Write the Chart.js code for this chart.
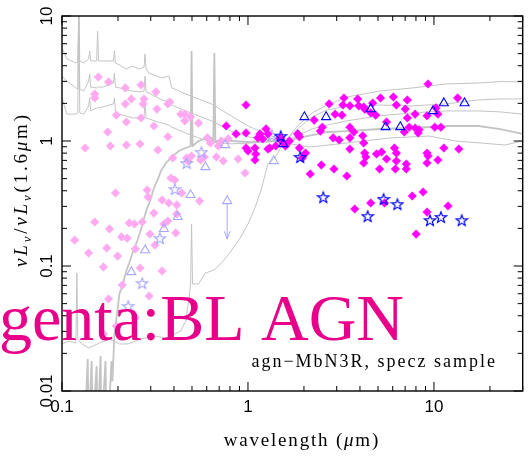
<!DOCTYPE html>
<html>
<head>
<meta charset="utf-8">
<title>BL AGN SEDs</title>
<script src="https://cdn.jsdelivr.net/npm/chart.js@4.4.0/dist/chart.umd.min.js"></script>
<style>
    html, body { margin: 0; padding: 0; background: #fff; }
    #wrap { width: 529px; height: 460px; position: relative; }
</style>
</head>
<body>
<div id="wrap"><canvas id="sed"></canvas></div>
<script>
// ---- data (wavelength in micron, nuLnu / nuLnu(1.6um)) ----

// broad-line AGN, magenta diamonds
var blWave = [9.29, 2.73, 3.28, 3.24, 3.53, 3.89, 3.94, 4.19, 4.68, 4.24,
    5.16, 6.05, 6.28, 7.19, 7.01, 2.94, 3.20, 4.57, 4.86, 2.27,
    5.56, 7.19, 7.92, 9.18, 10.25, 10.5, 13.4, 2.51, 2.45, 3.53,
    3.71, 1.87, 2.87, 3.09, 3.53, 4.14, 4.19, 6.93, 7.36, 7.92,
    8.32, 8.22, 10.1, 10.9, 1.89, 2.04, 1.96, 3.53, 4.24, 4.30,
    4.91, 5.23, 5.56, 6.13, 6.28, 6.28, 9.18, 9.29, 10.5, 11.3,
    13.6, 4.19, 5.10, 2.48, 2.90, 3.40, 2.16, 6.20, 7.10, 7.10,
    9.18, 7.64, 8.74, 3.75, 4.57, 5.42, 9.18, 11.9, 8.02, 0.976,
    0.764, 0.863, 0.976, 1.16, 1.13, 1.25, 1.28, 1.20, 0.976, 1.0,
    1.09, 1.10, 1.09, 1.28, 1.41, 1.48, 1.54, 1.50, 1.67, 1.59,
    1.85, 1.89, 1.31];
var blRatio = [2.86, 1.98, 2.21, 1.94, 1.91, 2.17, 1.91, 1.87, 2.01, 1.80,
    2.21, 2.25, 1.94, 2.13, 1.80, 1.64, 1.61, 1.68, 1.61, 1.47,
    1.42, 1.53, 1.64, 1.59, 1.84, 1.64, 2.21, 1.29, 1.20, 1.29,
    1.18, 1.12, 1.06, 1.02, 1.06, 1.10, 0.964, 1.18, 1.29, 1.27,
    1.23, 1.16, 1.29, 1.29, 0.879, 0.80, 0.731, 0.863, 0.80, 0.745,
    0.787, 0.817, 0.718, 0.879, 0.80, 0.692, 0.80, 0.759, 0.705, 0.879,
    0.863, 0.667, 0.597, 0.643, 0.597, 0.525, 0.545, 0.597, 0.654, 0.597,
    0.667, 0.363, 0.391, 0.286, 0.319, 0.319, 0.270, 0.302, 0.180, 1.94,
    1.32, 1.14, 1.16, 1.14, 1.06, 1.25, 1.14, 1.04, 0.879, 0.832,
    0.879, 0.787, 0.705, 0.863, 0.912, 1.04, 0.964, 1.06, 1.0, 0.912,
    1.14, 1.08, 0.879];

// same sources, rest-frame UV/optical bands (light pink)
var uvWave = [0.157, 0.178, 0.219, 0.266, 0.320, 0.150, 0.150, 0.236, 0.276, 0.219,
    0.273, 0.324, 0.380, 0.371, 0.196, 0.266, 0.222, 0.312, 0.435, 0.457,
    0.491, 0.457, 0.542, 0.605, 0.176, 0.371, 0.133, 0.182, 0.222, 0.263,
    0.328, 0.394, 0.468, 0.474, 0.497, 0.556, 0.583, 0.676, 0.719, 0.964,
    0.385, 0.404, 0.194, 0.287, 0.290, 0.345, 0.375, 0.414, 0.440, 0.549,
    0.312, 0.150, 0.230, 0.245, 0.270, 0.180, 0.209, 0.224, 0.297, 0.353,
    0.371, 0.409, 0.117, 0.139, 0.174, 0.199, 0.248, 0.316, 0.167, 0.263,
    0.345, 0.211, 0.178, 0.294, 0.248, 0.196, 0.167, 0.628, 0.693, 0.736,
    0.885, 0.783, 0.414];
var uvRatio = [3.25, 2.97, 2.66, 2.81, 2.47, 2.38, 2.21, 2.17, 2.17, 1.98,
    1.98, 1.80, 2.05, 1.98, 1.61, 1.53, 1.42, 1.32, 1.64, 1.64,
    1.56, 1.45, 1.39, 1.06, 1.18, 1.08, 0.879, 0.912, 0.929, 0.946,
    0.847, 0.731, 0.731, 0.692, 0.759, 0.705, 0.745, 0.745, 1.0, 0.555,
    0.506, 0.488, 0.384, 0.406, 0.356, 0.337, 0.319, 0.308, 0.384, 0.331,
    0.265, 0.225, 0.221, 0.217, 0.225, 0.198, 0.171, 0.167, 0.180, 0.217,
    0.229, 0.184, 0.161, 0.127, 0.139, 0.120, 0.137, 0.147, 0.0982, 0.0964,
    0.0912, 0.0705, 0.0545, 0.0575, 0.0384, 0.0331, 0.0286, 0.964, 0.912, 0.692,
    0.718, 1.04, 0.261];

// blue open symbols (IR bands) and their pale UV counterparts
var triWave = [2.01, 2.63, 4.57, 5.49, 6.59, 9.88, 11.3, 14.6, 1.55];
var triRatio = [1.556, 1.556, 1.80, 1.294, 1.294, 1.738, 2.01, 2.01, 0.946];
var starWave = [1.50, 1.91, 2.54, 4.40, 5.36, 6.36, 9.52, 10.9, 14.1];
var starRatio = [1.096, 0.745, 0.356, 0.251, 0.344, 0.313, 0.233, 0.247, 0.233];
var paleTriWave = [0.590, 0.491, 0.419, 0.353, 0.280, 0.236, 1.375, 0.754];
var paleTriRatio = [0.619, 0.370, 0.247, 0.198, 0.134, 0.0895, 0.692, 0.929];
var paleStarWave = [0.468, 0.562, 0.404, 0.336, 0.270, 0.227, 1.342];
var paleStarRatio = [0.667, 0.817, 0.413, 0.167, 0.0731, 0.0479, 1.117];

// upper limit (pale triangle with arrow)
var limitWave = [0.773];
var limitRatio = [0.331];
var limitLow = [0.164];

// templates
var qsoWave = [0.100, 0.1063, 0.1187, 0.1216, 0.1231, 0.1246, 0.1309, 0.1391, 0.1409, 0.1426,
    0.1535, 0.1554, 0.1573, 0.1652, 0.1890, 0.1914, 0.1937, 0.2035, 0.2217, 0.2385,
    0.2600, 0.2763, 0.2797, 0.2832, 0.2938, 0.3445, 0.3754, 0.3895, 0.4624, 0.542,
    0.6355, 0.8121, 1.0, 1.278, 1.593, 1.845, 2.217, 2.665, 3.404, 5.099,
    7.732, 11.58, 17.35, 22.72, 30.0];
var qsoHigh = [5.55, 4.53, 4.21, 4.37, 12, 4.37, 4.21, 4.53, 5.25, 4.37,
    4.37, 7.59, 4.37, 4.37, 4.37, 5.25, 4.21, 4.06, 3.77, 3.98,
    3.77, 3.91, 4.97, 3.77, 3.50, 3.19, 3.31, 2.66, 2.38, 2.17,
    1.98, 1.59, 1.32, 1.12, 1.0, 1.32, 1.68, 1.94, 2.25, 2.51,
    2.66, 2.86, 2.91, 2.99, 2.97];
var qsoMid = [3.31, 3.02, 2.66, 2.61, 12, 2.61, 2.51, 3.02, 3.44, 2.70,
    2.66, 2.70, 2.70, 2.70, 2.91, 3.50, 2.70, 2.66, 2.56, 2.51,
    2.47, 2.51, 3.31, 2.47, 2.42, 2.13, 2.05, 1.94, 1.74, 1.59,
    1.45, 1.20, 1.08, 1.02, 1.0, 1.25, 1.56, 1.77, 1.91, 1.94,
    1.91, 1.98, 2.13, 2.17, 2.17];
var qsoLow = [2.21, 1.64, 1.64, 1.68, 12, 1.68, 1.64, 1.91, 2.21, 1.74,
    1.84, 1.84, 1.84, 1.87, 1.98, 2.21, 1.74, 1.64, 1.59, 1.53,
    1.53, 1.56, 2.09, 1.53, 1.50, 1.39, 1.34, 1.29, 1.16, 1.06,
    0.98, 0.95, 0.96, 0.98, 1.0, 1.10, 1.25, 1.34, 1.45, 1.59,
    1.68, 1.74, 1.74, 1.71, 1.64];

var sfWave = [0.1326, 0.1375, 0.1391, 0.1444, 0.1462, 0.1535, 0.1554, 0.1612, 0.1632, 0.1714,
    0.1735, 0.1800, 0.1845, 0.1867, 0.1914, 0.1986, 0.2035, 0.2111, 0.2217, 0.2300,
    0.2415, 0.2537, 0.2663, 0.2832, 0.2974, 0.3123, 0.3281, 0.3403, 0.3618, 0.3847,
    0.4243, 0.4624, 0.4914, 0.4974, 0.5035, 0.542, 0.5905, 0.6355, 0.6513, 0.6595,
    0.6677, 0.8121, 1.0, 1.278, 1.593, 2.085, 2.665, 3.404, 5.099, 7.732,
    11.58, 17.35, 22.72, 30.0];
var sfRatio = [0.005, 0.0180, 0.005, 0.0174, 0.005, 0.0158, 0.005, 0.0191, 0.005, 0.0174,
    0.005, 0.0083, 0.0174, 0.0120, 0.0286, 0.0437, 0.0597, 0.0692, 0.0912, 0.1057,
    0.1318, 0.1585, 0.198, 0.275, 0.331, 0.421, 0.497, 0.575, 0.667, 0.731,
    0.832, 0.879, 0.912, 5.25, 0.912, 1.0, 1.038, 1.057, 1.0, 5.06,
    1.0, 1.0, 0.982, 1.0, 1.0, 1.096, 1.18, 1.20, 1.247, 1.271,
    1.318, 1.318, 1.247, 1.138];

var ellWave = [0.1, 0.1089, 0.1187, 0.1202, 0.1216, 0.1278, 0.1391, 0.1593, 0.18, 0.2035,
    0.227, 0.2663, 0.3123, 0.3709, 0.404, 0.4347, 0.4624, 0.4797, 0.4914, 0.4974,
    0.5035, 0.542, 0.5905, 0.6355, 0.6677, 0.7363, 0.8121, 0.9068, 1.0, 1.089,
    1.172, 1.231, 1.278, 1.392, 1.498, 1.593, 1.845, 2.163, 3.404, 5.763,
    9.406, 13.09, 24.15, 30.0];
var ellRatio = [0.0238, 0.0251, 0.0242, 0.0879, 0.0261, 0.0238, 0.0221, 0.0242, 0.0261, 0.0238,
    0.0238, 0.0261, 0.0275, 0.0265, 0.0286, 0.0302, 0.0363, 0.0525, 0.0718, 0.217,
    0.0718, 0.0718, 0.0879, 0.0912, 0.0946, 0.1096, 0.1318, 0.167, 0.217, 0.291,
    0.398, 0.525, 0.654, 0.731, 0.879, 0.964, 0.929, 0.895, 0.964, 1.057,
    1.096, 1.0, 0.929, 1.0];

// axes
var xMajor = [0.1, 1, 10];
var xMajorLabels = ['0.1', '1', '10'];
var yMajor = [0.01, 0.1, 1, 10];
var yMajorLabels = ['0.01', '0.1', '1', '10'];
var minorSteps = [2, 3, 4, 5, 6, 7, 8, 9];

var bigLabel = 'Magenta:BL AGN';
var sampleLabel = 'agn\u2212MbN3R, specz sample';

// ---- styling ----
var MAGENTA = '#ff00ff';
var PINK = '#ffaaf0';
var BLUE = '#0000ff';
var PALE_BLUE = '#a8a8ff';
var GREY = '#c4c4c4';
var SERIF = '"Liberation Serif", "Times New Roman", serif';
var SANS = '"Liberation Sans", Arial, sans-serif';

function pairs(xs, ys) {
    return xs.map(function(x, i) { return { x: x, y: ys[i] }; });
}

// open five-point star used as a point style
function starImage(color) {
    var size = 14;
    var c = document.createElement('canvas');
    c.width = c.height = size;
    var g = c.getContext('2d');
    var r = 5.8, ri = 2.4, cx = size / 2, cy = size / 2 + 0.7;
    g.beginPath();
    for (var i = 0; i < 10; i++) {
        var a = -Math.PI / 2 + i * Math.PI / 5;
        var rr = (i % 2) ? ri : r;
        g.lineTo(cx + rr * Math.cos(a), cy + rr * Math.sin(a));
    }
    g.closePath();
    g.strokeStyle = color;
    g.lineWidth = 1.2;
    g.stroke();
    return c;
}

function pointSet(xs, ys, style, color, filled, radius) {
    return {
        data: pairs(xs, ys),
        pointStyle: style,
        pointRadius: radius,
        pointBorderWidth: filled ? 0.5 : 1.1,
        pointBackgroundColor: filled ? color : 'rgba(0,0,0,0)',
        pointBorderColor: color,
        showLine: false
    };
}

function lineSet(xs, ys, width) {
    return {
        data: pairs(xs, ys),
        showLine: true,
        pointRadius: 0,
        borderColor: GREY,
        borderWidth: width,
        tension: 0
    };
}

// draw text char by char with extra spacing (the original uses wide TeX fonts)
function piecesWidth(ctx, pieces, gap) {
    var w = 0;
    pieces.forEach(function(p) {
        ctx.font = p.font;
        for (var i = 0; i < p.t.length; i++) {
            w += ctx.measureText(p.t[i]).width + gap;
        }
    });
    return w - gap;
}

function drawPieces(ctx, pieces, x, y, gap) {
    pieces.forEach(function(p) {
        ctx.font = p.font;
        for (var i = 0; i < p.t.length; i++) {
            ctx.fillText(p.t[i], x, y + (p.dy || 0));
            x += ctx.measureText(p.t[i]).width + gap;
        }
    });
}

var sedFrame = {
    id: 'sedFrame',
    afterDatasetsDraw: function(chart) {
        var ctx = chart.ctx;
        var area = chart.chartArea;
        var xs = chart.scales.x;
        var ys = chart.scales.y;

        ctx.save();

        // upper-limit arrows
        ctx.strokeStyle = PALE_BLUE;
        ctx.lineWidth = 1;
        limitWave.forEach(function(w, i) {
            var px = xs.getPixelForValue(w);
            var top = ys.getPixelForValue(limitRatio[i]) + 3;
            var tip = ys.getPixelForValue(limitLow[i]);
            ctx.beginPath();
            ctx.moveTo(px, top);
            ctx.lineTo(px, tip);
            ctx.moveTo(px - 3, tip - 8);
            ctx.lineTo(px, tip);
            ctx.lineTo(px + 3, tip - 8);
            ctx.stroke();
        });

        // frame
        ctx.strokeStyle = '#000';
        ctx.lineWidth = 1.4;
        ctx.strokeRect(area.left, area.top, area.right - area.left, area.bottom - area.top);

        // ticks on all four sides, pointing inward
        ctx.lineWidth = 1;
        ctx.beginPath();
        xMajor.forEach(function(d) {
            var px = xs.getPixelForValue(d);
            ctx.moveTo(px, area.bottom); ctx.lineTo(px, area.bottom - 9);
            ctx.moveTo(px, area.top); ctx.lineTo(px, area.top + 9);
            minorSteps.forEach(function(k) {
                var v = k * d;
                if (v > xs.max) return;
                var mx = xs.getPixelForValue(v);
                ctx.moveTo(mx, area.bottom); ctx.lineTo(mx, area.bottom - 5);
                ctx.moveTo(mx, area.top); ctx.lineTo(mx, area.top + 5);
            });
        });
        yMajor.forEach(function(d) {
            var py = ys.getPixelForValue(d);
            ctx.moveTo(area.left, py); ctx.lineTo(area.left + 9, py);
            ctx.moveTo(area.right, py); ctx.lineTo(area.right - 9, py);
            minorSteps.forEach(function(k) {
                var v = k * d;
                if (v > ys.max) return;
                var my = ys.getPixelForValue(v);
                ctx.moveTo(area.left, my); ctx.lineTo(area.left + 5, my);
                ctx.moveTo(area.right, my); ctx.lineTo(area.right - 5, my);
            });
        });
        ctx.stroke();

        // tick labels
        ctx.fillStyle = '#000';
        ctx.font = '17px ' + SANS;
        ctx.textAlign = 'center';
        ctx.textBaseline = 'alphabetic';
        xMajor.forEach(function(d, i) {
            ctx.fillText(xMajorLabels[i], xs.getPixelForValue(d), area.bottom + 21);
        });
        yMajor.forEach(function(d, i) {
            ctx.save();
            ctx.translate(area.left - 10, ys.getPixelForValue(d));
            ctx.rotate(-Math.PI / 2);
            ctx.fillText(yMajorLabels[i], 0, 0);
            ctx.restore();
        });

        // axis titles
        ctx.textAlign = 'left';
        var rm = '19px ' + SERIF;
        var it = 'italic 19px ' + SERIF;
        var xTitle = [{ t: 'wavelength (', font: rm }, { t: '\u03bc', font: it }, { t: 'm)', font: rm }];
        var xw = piecesWidth(ctx, xTitle, 1.8);
        drawPieces(ctx, xTitle, 301 - xw / 2, 446, 1.8);

        var sub = 'italic 13px ' + SERIF;
        var yTitle = [
            { t: '\u03bdL', font: it }, { t: '\u03bd', font: sub, dy: 4 },
            { t: '/', font: rm },
            { t: '\u03bdL', font: it }, { t: '\u03bd', font: sub, dy: 4 },
            { t: '(1.6', font: rm }, { t: '\u03bc', font: it }, { t: 'm)', font: rm }
        ];
        ctx.save();
        ctx.translate(27, 191);
        ctx.rotate(-Math.PI / 2);
        var yw = piecesWidth(ctx, yTitle, 2.8);
        drawPieces(ctx, yTitle, -yw / 2, 0, 2.8);
        ctx.restore();

        // sample note
        var note = [{ t: sampleLabel, font: '18px ' + SERIF }];
        var nw = piecesWidth(ctx, note, 2);
        drawPieces(ctx, note, 495 - nw, 367, 2);

        // big class label, partly running off the left edge as in the original
        ctx.fillStyle = '#e8008a';
        ctx.font = '66px ' + SERIF;
        ctx.textAlign = 'right';
        ctx.fillText(bigLabel, 404, 340);

        ctx.restore();
    }
};

var datasets = [
    pointSet(starWave, starRatio, starImage(BLUE), BLUE, false, 5),
    pointSet(triWave, triRatio, 'triangle', BLUE, false, 5.2),
    pointSet(blWave, blRatio, 'rectRot', MAGENTA, true, 4.3),
    pointSet(paleStarWave, paleStarRatio, starImage(PALE_BLUE), PALE_BLUE, false, 5),
    pointSet(paleTriWave, paleTriRatio, 'triangle', PALE_BLUE, false, 5.2),
    pointSet(limitWave, limitRatio, 'triangle', PALE_BLUE, false, 5.2),
    pointSet(uvWave, uvRatio, 'rectRot', PINK, true, 4.3),
    lineSet(qsoWave, qsoHigh, 1),
    lineSet(qsoWave, qsoMid, 1),
    lineSet(qsoWave, qsoLow, 1),
    lineSet(sfWave, sfRatio, 1.8),
    lineSet(ellWave, ellRatio, 1)
];

new Chart(document.getElementById('sed'), {
    type: 'scatter',
    data: { datasets: datasets },
    options: {
        responsive: true,
        maintainAspectRatio: false,
        animation: false,
        layout: { padding: { left: 62, top: 16, right: 1, bottom: 69 } },
        plugins: { legend: { display: false }, tooltip: { enabled: false } },
        scales: {
            x: { type: 'logarithmic', min: 0.1, max: 30, display: false },
            y: { type: 'logarithmic', min: 0.01, max: 10, display: false }
        }
    },
    plugins: [sedFrame]
});
</script>
</body>
</html>
